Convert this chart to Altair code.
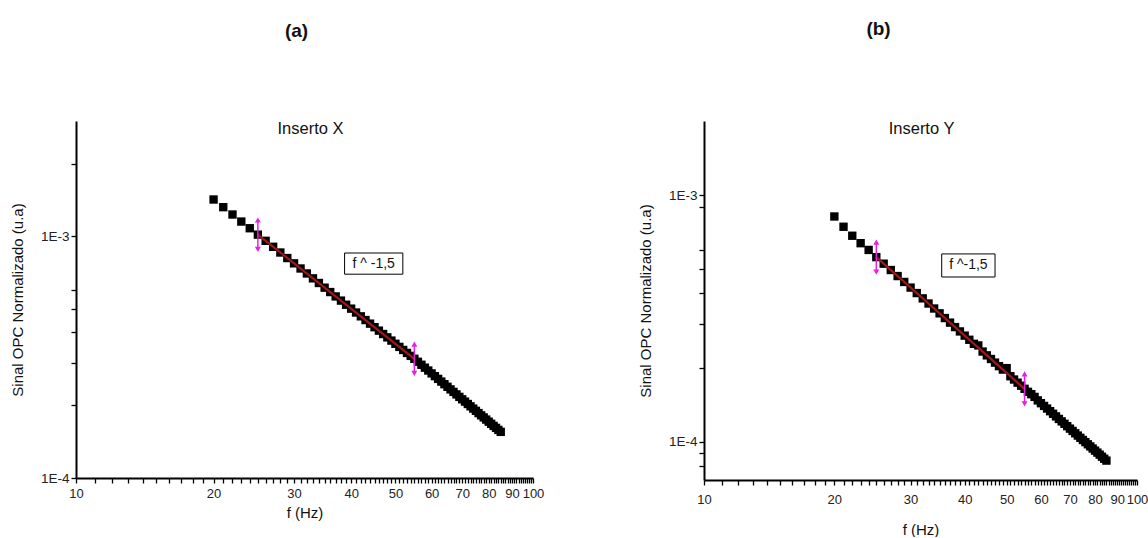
import altair as alt
import pandas as pd

FONT = "Liberation Sans"

# ---------------- data ----------------
freq = [20, 21, 22, 23, 24, 25, 26, 27, 28, 29, 30, 31, 32, 33, 34, 35, 36, 37, 38, 39,
        40, 41, 42, 43, 44, 45, 46, 47, 48, 49, 50, 51, 52, 53, 54, 55, 56, 57, 58, 59,
        60, 61, 62, 63, 64, 65, 66, 67, 68, 69, 70, 71, 72, 73, 74, 75, 76, 77, 78, 79,
        80, 81, 82, 83, 84, 85]

sinal_x = [1.420e-3, 1.320e-3, 1.231e-3, 1.151e-3, 1.080e-3, 1.016e-3, 0.958e-3, 0.905e-3,
           0.857e-3, 0.813e-3, 0.773e-3, 0.736e-3, 0.702e-3, 0.670e-3, 0.641e-3, 0.613e-3,
           0.588e-3, 0.564e-3, 0.542e-3, 0.521e-3, 0.502e-3, 0.4838e-3, 0.4666e-3, 0.4504e-3,
           0.4352e-3, 0.4207e-3, 0.4071e-3, 0.3942e-3, 0.3819e-3, 0.3703e-3, 0.3592e-3,
           0.3487e-3, 0.3387e-3, 0.3292e-3, 0.3201e-3, 0.3114e-3, 3.026e-4, 2.941e-4,
           2.861e-4, 2.784e-4, 2.709e-4, 2.639e-4, 2.571e-4, 2.506e-4, 2.444e-4, 2.384e-4,
           2.326e-4, 2.271e-4, 2.218e-4, 2.166e-4, 2.117e-4, 2.070e-4, 2.024e-4, 1.980e-4,
           1.937e-4, 1.896e-4, 1.856e-4, 1.817e-4, 1.781e-4, 1.745e-4, 1.710e-4, 1.676e-4,
           1.643e-4, 1.612e-4, 1.581e-4, 1.552e-4]

sinal_y = [8.20e-4, 7.45e-4, 6.85e-4, 6.39e-4, 6.00e-4, 5.61e-4, 5.277e-4, 4.974e-4,
           4.701e-4, 4.449e-4, 4.221e-4, 4.011e-4, 3.817e-4, 3.638e-4, 3.472e-4, 3.319e-4,
           3.176e-4, 3.043e-4, 2.919e-4, 2.803e-4, 2.695e-4, 2.593e-4, 2.497e-4, 2.460e-4,
           2.323e-4, 2.242e-4, 2.167e-4, 2.095e-4, 2.027e-4, 1.963e-4, 1.990e-4, 1.845e-4,
           1.789e-4, 1.737e-4, 1.688e-4, 1.640e-4, 1.595e-4, 1.560e-4, 1.521e-4, 1.472e-4,
           1.434e-4, 1.398e-4, 1.364e-4, 1.331e-4, 1.299e-4, 1.268e-4, 1.238e-4, 1.210e-4,
           1.183e-4, 1.157e-4, 1.131e-4, 1.107e-4, 1.083e-4, 1.060e-4, 1.038e-4, 1.017e-4,
           0.997e-4, 0.977e-4, 0.958e-4, 0.939e-4, 0.921e-4, 0.904e-4, 0.887e-4, 0.870e-4,
           0.854e-4, 0.839e-4]

fit_f = [25, 55]
fit_x = [1.016e-3, 3.114e-4]
fit_y = [5.61e-4, 1.64e-4]

x_ticks = [10, 11, 12, 13, 14, 15, 16, 17, 18, 19, 20, 21, 22, 23, 24, 25, 26, 27, 28, 29,
           30, 31, 32, 33, 34, 35, 36, 37, 38, 39, 40, 41, 42, 43, 44, 45, 46, 47, 48, 49,
           50, 51, 52, 53, 54, 55, 56, 57, 58, 59, 60, 61, 62, 63, 64, 65, 66, 67, 68, 69,
           70, 71, 72, 73, 74, 75, 76, 77, 78, 79, 80, 81, 82, 83, 84, 85, 86, 87, 88, 89,
           90, 91, 92, 93, 94, 95, 96, 97, 98, 99, 100]
y_ticks_a = [1e-4, 2e-4, 3e-4, 4e-4, 5e-4, 6e-4, 1e-3, 2e-3]
y_ticks_b = [8e-5, 9e-5, 1e-4, 2e-4, 3e-4, 4e-4, 5e-4, 6e-4, 9e-4, 1e-3]

# annotation box [f_left, f_right, y_top, y_bottom], text
box_a = [38.7, 51.9, 8.53e-4, 6.97e-4]
box_b = [35.4, 47.0, 5.78e-4, 4.66e-4]


def panel(values, fit_vals, ydom, yticks, letter, inserto, ins_f, box, label, w, h,
          title_offset, x_lab_pad, x_title_pad, title_dx):
    pts = pd.DataFrame({"f": freq, "s": values})
    fit = pd.DataFrame({"f": fit_f, "s": fit_vals})
    bx = pd.DataFrame({"f1": [box[0]], "f2": [box[1]], "s1": [box[2]], "s2": [box[3]],
                       "fc": [(box[0] * box[1]) ** 0.5], "sc": [(box[2] * box[3]) ** 0.5],
                       "t": [label]})
    ins = pd.DataFrame({"f": [ins_f], "s": [ydom[1]], "t": [inserto]})

    xscale = alt.Scale(type="log", domain=[10, 100], nice=False)
    yscale = alt.Scale(type="log", domain=ydom, nice=False)
    xaxis = alt.Axis(values=x_ticks, labelExpr="datum.value % 10 == 0 ? datum.value : ''",
                     labelOverlap=False, labelFlush=False, grid=False, tickSize=5,
                     tickWidth=1.3, tickColor="black", domainColor="black", domainWidth=2,
                     labelFont=FONT, labelFontSize=13, labelColor="#222",
                     labelPadding=x_lab_pad, title="f (Hz)", titleFont=FONT,
                     titleFontSize=15, titleFontWeight="normal", titleColor="#111",
                     titlePadding=x_title_pad)
    yaxis = alt.Axis(values=yticks,
                     labelExpr="datum.value == 0.001 ? '1E-3' : (datum.value == 0.0001 ? '1E-4' : '')",
                     labelOverlap=False, labelFlush=False, grid=False, tickSize=5,
                     tickWidth=1.3, tickColor="black", domainColor="black", domainWidth=2,
                     labelFont=FONT, labelFontSize=13.5, labelColor="#222", labelPadding=2,
                     title="Sinal OPC Normalizado (u.a)", titleFont=FONT, titleFontSize=15,
                     titleFontWeight="normal", titleColor="#111", titlePadding=15)

    base = alt.Chart(pts)
    points = base.mark_square(size=70, color="black", opacity=1).encode(
        x=alt.X("f:Q", scale=xscale, axis=xaxis),
        y=alt.Y("s:Q", scale=yscale, axis=yaxis),
    )
    line = alt.Chart(fit).mark_line(color="#a01818", strokeWidth=2.2).encode(
        x="f:Q", y="s:Q")
    arrows = alt.Chart(fit).transform_calculate(
        top="datum.s * 1.15", bot="datum.s / 1.15")
    arr_rule = arrows.mark_rule(color="#e81ee8", strokeWidth=1.5).encode(
        x="f:Q", y="top:Q", y2="bot:Q")
    arr_up = arrows.mark_point(shape="triangle-up", size=36, filled=True,
                               color="#e81ee8", opacity=1).encode(x="f:Q", y="top:Q")
    arr_dn = arrows.mark_point(shape="triangle-down", size=36, filled=True,
                               color="#e81ee8", opacity=1).encode(x="f:Q", y="bot:Q")
    rect = alt.Chart(bx).mark_rect(fill="white", stroke="black", strokeWidth=1).encode(
        x="f1:Q", x2="f2:Q", y="s1:Q", y2="s2:Q")
    txt = alt.Chart(bx).mark_text(font=FONT, fontSize=14, color="#111").encode(
        x="fc:Q", y="sc:Q", text="t:N")
    ins_txt = alt.Chart(ins).mark_text(font=FONT, fontSize=16.5, baseline="top",
                                       color="#111").encode(x="f:Q", y="s:Q", text="t:N")

    return alt.layer(points, line, arr_rule, arr_up, arr_dn, rect, txt, ins_txt).properties(
        width=w, height=h,
        title=alt.TitleParams(letter, font=FONT, fontSize=19, fontWeight="bold",
                              color="#111", anchor="middle", offset=title_offset,
                              dx=title_dx),
    )


left = panel(sinal_x, fit_x, [1e-4, 3e-3], y_ticks_a, "(a)", "Inserto X", 32.6, box_a,
             "f ^ -1,5", 457, 357, 80, 4, 5, -8)
right = panel(sinal_y, fit_y, [7e-5, 2e-3], y_ticks_b, "(b)", "Inserto Y", 31.8, box_b,
              "f ^-1,5", 433, 359, 82, 8, 16, -42)

chart = alt.hconcat(left, right, spacing=94).properties(
    padding={"left": 10, "top": 20, "right": 0, "bottom": 0},
    background="white",
).configure_view(stroke=None, strokeWidth=0)

chart.save("out.html", embed_options={"renderer": "svg", "actions": False})
